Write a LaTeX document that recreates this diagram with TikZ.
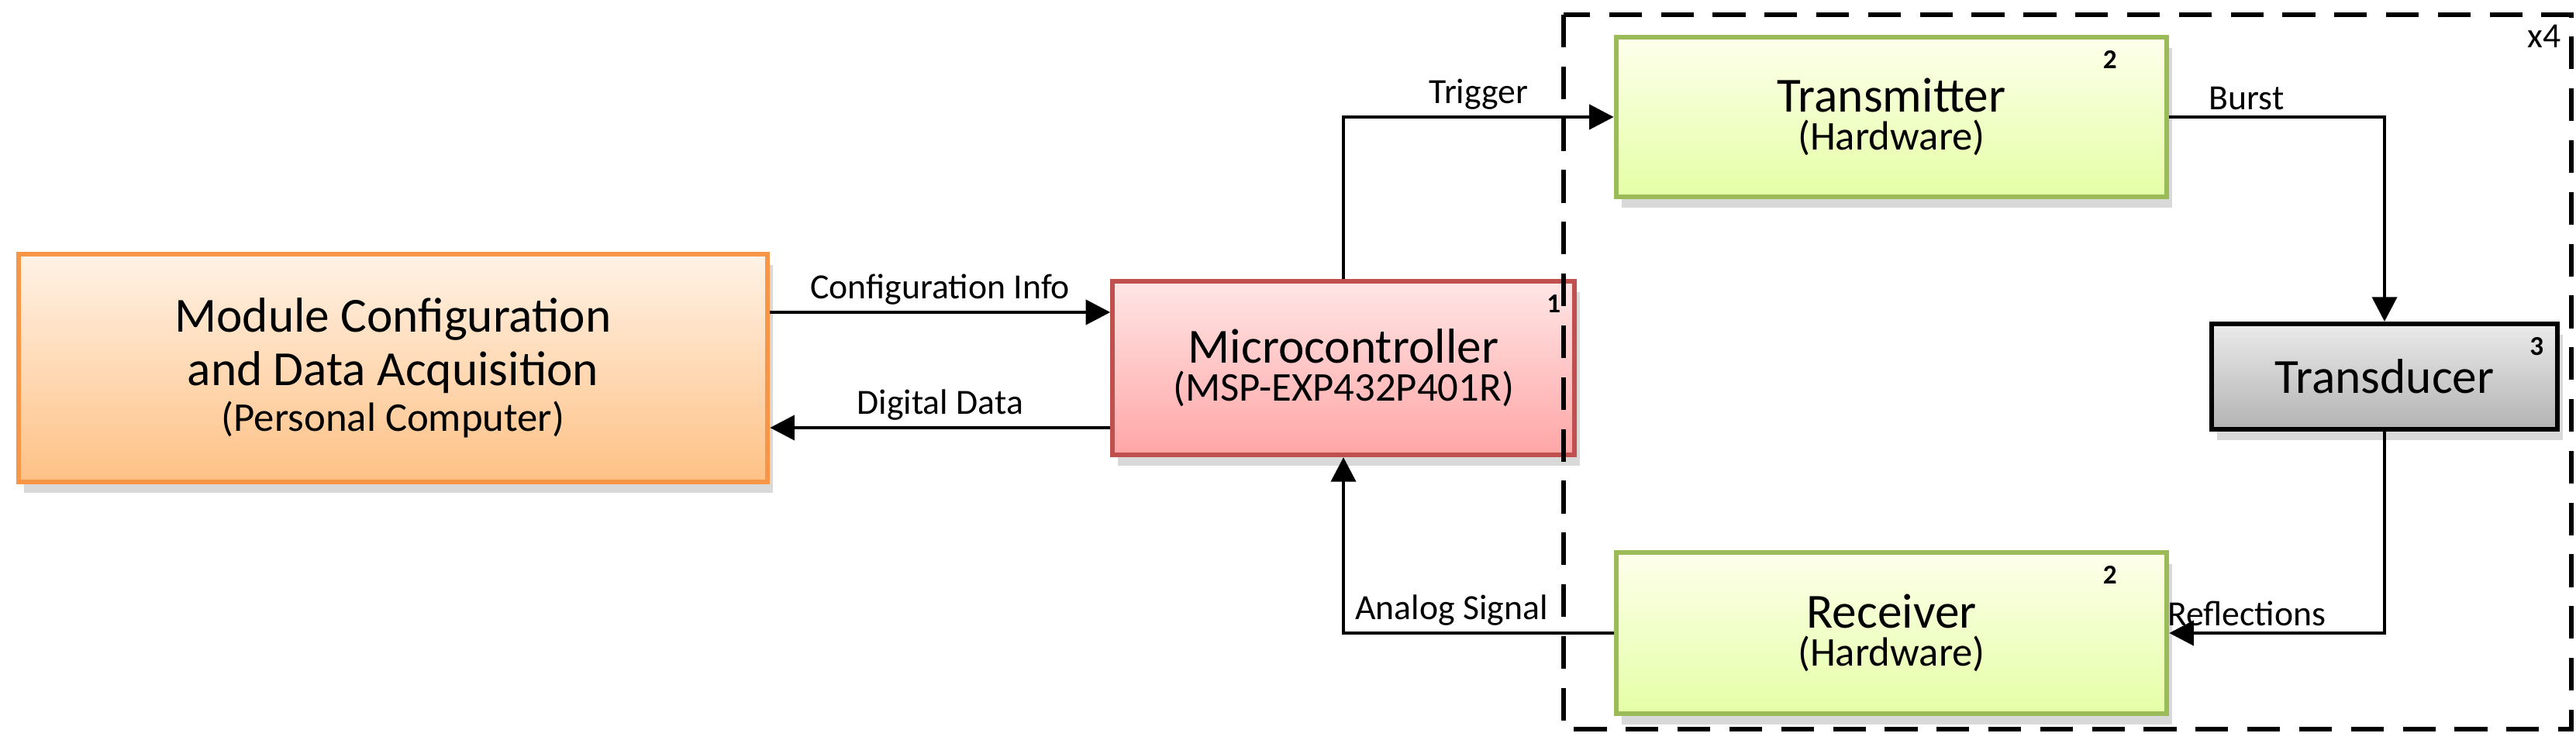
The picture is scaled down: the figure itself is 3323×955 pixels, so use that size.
\documentclass[tikz,border=0pt]{standalone}
\usepackage{fontspec}
\setmainfont{Carlito}
\usetikzlibrary{arrows.meta,shadows}

\definecolor{pcedge}{HTML}{F79646}
\definecolor{mcedge}{HTML}{C0504D}
\definecolor{hwedge}{HTML}{9BBB59}

\begin{document}
\begin{tikzpicture}[x=0.01cm,y=-0.01cm,
  blk/.style={draw, line width=1.7pt, inner sep=0pt, align=center,
    drop shadow={shadow xshift=2pt, shadow yshift=-4pt, opacity=0.3}},
  pc/.style={blk, draw=pcedge, top color=orange!10!white, bottom color=orange!45!white!90!pcedge},
  mc/.style={blk, draw=mcedge, top color=red!10!white, bottom color=red!35!white},
  hw/.style={blk, draw=hwedge, top color=green!6!yellow!8!white, bottom color=green!30!yellow!35!white},
  td/.style={blk, draw=black, top color=black!8, bottom color=black!30},
  sig/.style={line width=1.4pt, -{Triangle[length=9pt,width=9pt]}},
  lbl/.style={font=\fontsize{13}{15}\selectfont, inner sep=2pt},
  num/.style={font=\fontsize{10}{12}\selectfont\bfseries}]
\useasboundingbox (0,0) rectangle (3323,955);

% blocks
\node[pc, minimum width=9.66cm, minimum height=2.93cm] (pc) at (507,475)
  {\fontsize{18}{24}\selectfont Module Configuration\\[3pt]
   \fontsize{18}{24}\selectfont and Data Acquisition\\[2pt]
   \fontsize{15}{20}\selectfont (Personal Computer)};
\node[mc, minimum width=5.95cm, minimum height=2.24cm] (mc) at (1733,475)
  {\fontsize{18}{24}\selectfont Microcontroller\\[2pt]
   \fontsize{15}{20}\selectfont (MSP-EXP432P401R)};
\node[hw, minimum width=7.1cm, minimum height=2.06cm] (tx) at (2440,151)
  {\fontsize{18}{24}\selectfont Transmitter\\[2pt]
   \fontsize{15}{20}\selectfont (Hardware)};
\node[hw, minimum width=7.1cm, minimum height=2.07cm] (rx) at (2440,817)
  {\fontsize{18}{24}\selectfont Receiver\\[2pt]
   \fontsize{15}{20}\selectfont (Hardware)};
\node[td, minimum width=4.45cm, minimum height=1.36cm] (td) at (3076,486)
  {\fontsize{18}{24}\selectfont Transducer};

% corner numbers
\node[num, anchor=north east] at ([xshift=-0.08cm,yshift=-0.08cm]mc.north east) {1};
\node[num, anchor=north east] at ([xshift=-0.55cm,yshift=-0.08cm]tx.north east) {2};
\node[num, anchor=north east] at ([xshift=-0.55cm,yshift=-0.08cm]rx.north east) {2};
\node[num, anchor=north east] at ([xshift=-0.08cm,yshift=-0.08cm]td.north east) {3};

% x4 group
\draw[line width=1.6pt, dash pattern=on 12pt off 7pt] (2017,19) rectangle (3317,941);
\node[font=\fontsize{13}{15}\selectfont, anchor=north east, inner sep=1pt] at (3308,28) {x4};

% connectors
\draw[sig] (pc.east |- 0,403) -- node[lbl, above] {Configuration Info} (mc.west |- 0,403);
\draw[sig] (mc.west |- 0,552) -- node[lbl, above] {Digital Data} (pc.east |- 0,552);
\draw[sig] (mc.north) |- node[lbl, above, pos=0.75] {Trigger} (tx.west);
\draw[sig] (tx.east) -| (td.north) node[lbl, above, pos=0.18] {Burst};
\draw[sig] (td.south) |- (rx.east) node[lbl, above, pos=0.82] {Reflections};
\draw[sig] (rx.west) -| (mc.south) node[lbl, above, pos=0.3] {Analog Signal};
\end{tikzpicture}
\end{document}
